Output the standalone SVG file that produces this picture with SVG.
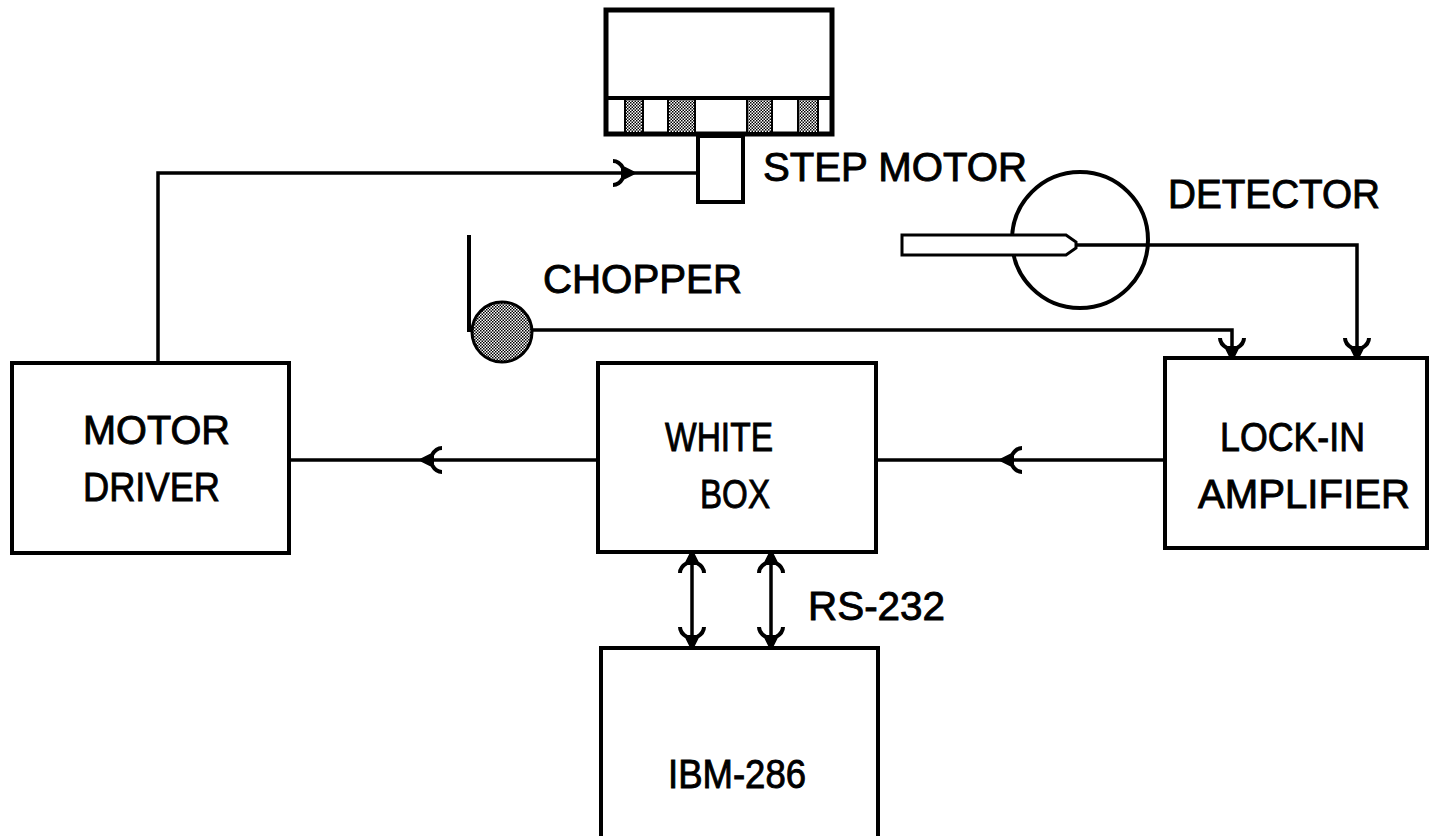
<svg xmlns="http://www.w3.org/2000/svg" xmlns:xlink="http://www.w3.org/1999/xlink" width="1429" height="836" viewBox="0 0 1429 836">
<style>
.box{fill:#fff;stroke:#000;stroke-width:4}
.ln{fill:none;stroke:#000;stroke-width:3.5}
.t{font-family:"Liberation Sans",Arial,sans-serif;font-size:40px;fill:#000;stroke:#000;stroke-width:0.9}
</style>
<defs>
<pattern id="dots" width="3" height="3" patternUnits="userSpaceOnUse">
<rect width="3" height="3" fill="#fff"/>
<rect x="0" y="0" width="1.5" height="1.5" fill="#000"/>
<rect x="1.5" y="1.5" width="1.5" height="1.5" fill="#000"/>
</pattern>
<g id="ah">
<path d="M-20,-12 Q-14,-12 -10,-5 L0,0 L-10,5 Q-14,12 -20,12" fill="none" stroke="#000" stroke-width="4" stroke-linejoin="round"/>
<path d="M-12,-5 L0,0 L-12,5 Z" fill="#000"/>
</g>
</defs>
<rect width="1429" height="836" fill="#fff"/>

<g id="grating">
<rect x="606" y="10" width="226" height="124" fill="#fff" stroke="#000" stroke-width="5"/>
<line x1="606" y1="98" x2="832" y2="98" stroke="#000" stroke-width="4"/>
<rect x="625" y="100" width="18" height="32" fill="url(#dots)"/>
<rect x="668" y="100" width="27" height="32" fill="url(#dots)"/>
<rect x="747" y="100" width="25" height="32" fill="url(#dots)"/>
<rect x="798" y="100" width="20" height="32" fill="url(#dots)"/>
<g stroke="#000" stroke-width="2">
<line x1="625" y1="100" x2="625" y2="132"/><line x1="643" y1="100" x2="643" y2="132"/>
<line x1="668" y1="100" x2="668" y2="132"/><line x1="695" y1="100" x2="695" y2="132"/>
<line x1="747" y1="100" x2="747" y2="132"/><line x1="772" y1="100" x2="772" y2="132"/>
<line x1="798" y1="100" x2="798" y2="132"/><line x1="818" y1="100" x2="818" y2="132"/>
</g>
</g>

<g id="step-motor">
<rect x="698" y="136" width="45" height="66" class="box"/>
<text class="t" x="763" y="181" textLength="264" lengthAdjust="spacingAndGlyphs">STEP MOTOR</text>
</g>

<g id="detector">
<circle cx="1080" cy="240" r="68" fill="none" stroke="#000" stroke-width="4"/>
<path d="M902,235 L1066,235 L1076,242 L1076,248 L1066,255 L902,255 Z" fill="#fff" stroke="#000" stroke-width="3"/>
<text class="t" x="1168" y="208" textLength="212" lengthAdjust="spacingAndGlyphs">DETECTOR</text>
</g>

<g id="chopper">
<line x1="469" y1="235" x2="469" y2="332" stroke="#000" stroke-width="4"/>
<circle cx="502" cy="332" r="30" fill="url(#dots)" stroke="#000" stroke-width="3"/>
<text class="t" x="543" y="293" textLength="199" lengthAdjust="spacingAndGlyphs">CHOPPER</text>
</g>

<g id="motor-driver">
<rect x="12" y="363" width="277" height="190" class="box"/>
<text class="t" x="83" y="444" textLength="147" lengthAdjust="spacingAndGlyphs">MOTOR</text>
<text class="t" x="83" y="501" textLength="137" lengthAdjust="spacingAndGlyphs">DRIVER</text>
</g>

<g id="white-box">
<rect x="598" y="363" width="278" height="189" class="box"/>
<text class="t" x="665" y="451" textLength="108" lengthAdjust="spacingAndGlyphs">WHITE</text>
<text class="t" x="700" y="508" textLength="70" lengthAdjust="spacingAndGlyphs">BOX</text>
</g>

<g id="lock-in">
<rect x="1165" y="358" width="262" height="190" class="box"/>
<text class="t" x="1220" y="451" textLength="145" lengthAdjust="spacingAndGlyphs">LOCK-IN</text>
<text class="t" x="1198" y="508" textLength="212" lengthAdjust="spacingAndGlyphs">AMPLIFIER</text>
</g>

<g id="ibm">
<rect x="601" y="648" width="277" height="200" class="box"/>
<text class="t" x="668" y="788" textLength="138" lengthAdjust="spacingAndGlyphs">IBM-286</text>
</g>

<g id="connectors">
<path class="ln" d="M158,363 L158,173 L698,173"/>
<use href="#ah" transform="translate(633,173)"/>
<path class="ln" d="M1076,245 L1357,245 L1357,358"/>
<use href="#ah" transform="translate(1357,358) rotate(90)"/>
<path class="ln" d="M532,330 L1232,330 L1232,358"/>
<use href="#ah" transform="translate(1232,358) rotate(90)"/>
<line class="ln" x1="598" y1="460" x2="289" y2="460"/>
<use href="#ah" transform="translate(422,460) rotate(180)"/>
<line class="ln" x1="1165" y1="460" x2="876" y2="460"/>
<use href="#ah" transform="translate(1002,460) rotate(180)"/>
<line class="ln" x1="692" y1="552" x2="692" y2="648"/>
<use href="#ah" transform="translate(692,553) rotate(-90)"/>
<use href="#ah" transform="translate(692,647) rotate(90)"/>
<line class="ln" x1="771" y1="552" x2="771" y2="648"/>
<use href="#ah" transform="translate(771,553) rotate(-90)"/>
<use href="#ah" transform="translate(771,647) rotate(90)"/>
<text class="t" x="808" y="620" textLength="137" lengthAdjust="spacingAndGlyphs">RS-232</text>
</g>
</svg>
